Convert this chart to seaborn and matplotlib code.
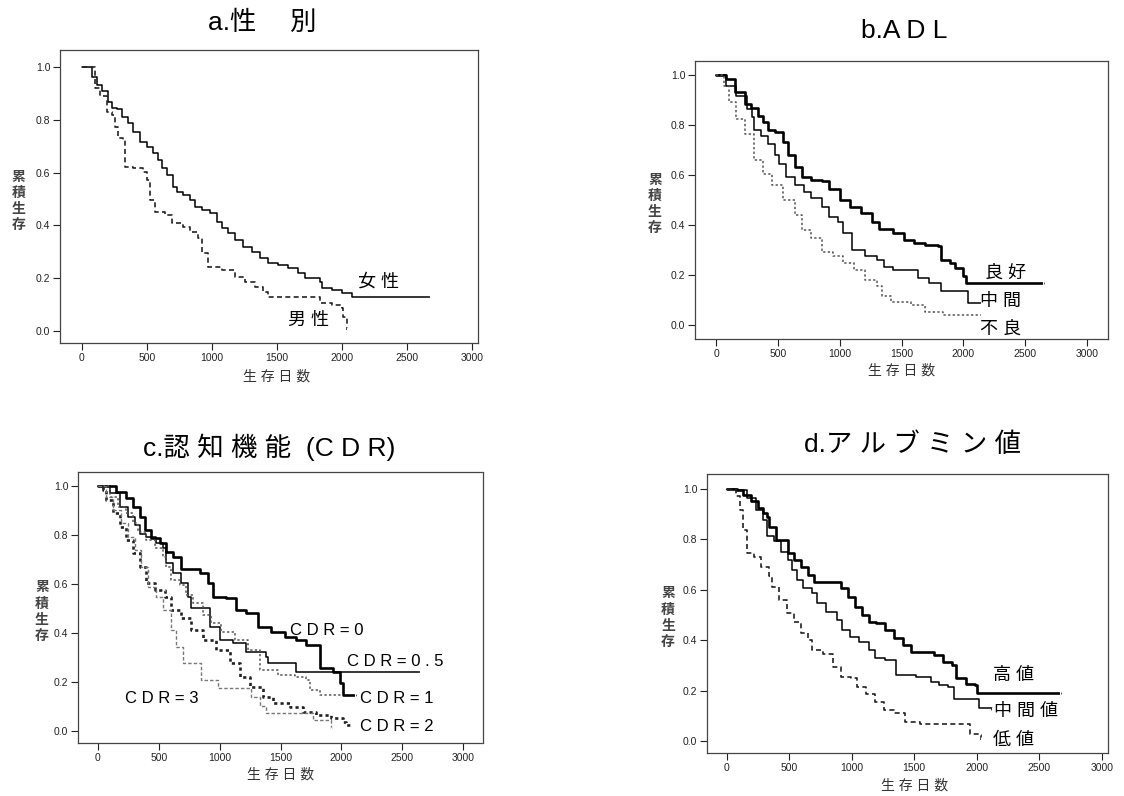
import numpy as np
import pandas as pd
import matplotlib
matplotlib.use("Agg")
import matplotlib.pyplot as plt
import seaborn as sns

# ---------------------------------------------------------------
# data (time in days, cumulative survival)
# ---------------------------------------------------------------
# a. sex
a_female_t = [0, 74, 113, 151, 203, 228, 267, 305, 356, 395, 446, 497, 549, 587, 613, 651,
              703, 728, 779, 831, 869, 920, 985, 1036, 1074, 1125, 1177, 1241, 1305, 1369,
              1433, 1510, 1587, 1664, 1715, 1831, 1844, 1921, 1997, 2074, 2679]
a_female_s = [1.0, 0.963, 0.932, 0.907, 0.869, 0.843, 0.84, 0.812, 0.787, 0.755, 0.717,
              0.698, 0.673, 0.648, 0.617, 0.592, 0.547, 0.528, 0.515, 0.497, 0.471, 0.459,
              0.446, 0.414, 0.389, 0.37, 0.345, 0.32, 0.301, 0.276, 0.257, 0.25, 0.238,
              0.219, 0.2, 0.187, 0.162, 0.156, 0.143, 0.128, 0.128]
a_male_t = [0, 100, 138, 190, 228, 254, 279, 318, 331, 395, 472, 497, 523, 562, 638, 690,
            779, 831, 895, 921, 972, 1074, 1177, 1254, 1331, 1395, 1433, 1831, 1921, 1997,
            2010, 2036]
a_male_s = [1.0, 0.92, 0.888, 0.83, 0.818, 0.774, 0.73, 0.723, 0.622, 0.616, 0.603, 0.572,
            0.496, 0.452, 0.439, 0.408, 0.395, 0.376, 0.351, 0.294, 0.243, 0.231, 0.206,
            0.187, 0.168, 0.149, 0.128, 0.105, 0.098, 0.086, 0.054, 0.004]

# b. ADL
b_good_t = [0, 78, 150, 236, 280, 337, 380, 424, 481, 539, 582, 640, 697, 769, 856, 913,
            1000, 1086, 1173, 1259, 1317, 1432, 1519, 1605, 1692, 1793, 1822, 1893, 1936,
            1994, 2023, 2643]
b_good_s = [1.0, 0.984, 0.931, 0.885, 0.869, 0.838, 0.812, 0.781, 0.772, 0.732, 0.679, 0.633,
            0.593, 0.58, 0.577, 0.546, 0.5, 0.473, 0.447, 0.414, 0.383, 0.37, 0.341, 0.33,
            0.321, 0.317, 0.261, 0.248, 0.228, 0.195, 0.168, 0.168]
b_mid_t = [0, 78, 164, 251, 294, 308, 366, 424, 481, 510, 568, 640, 712, 769, 856, 913, 986,
           1029, 1101, 1202, 1303, 1360, 1432, 1634, 1720, 1822, 2038, 2139]
b_mid_s = [1.0, 0.958, 0.918, 0.865, 0.832, 0.779, 0.755, 0.725, 0.679, 0.646, 0.593, 0.56,
           0.533, 0.507, 0.473, 0.434, 0.414, 0.367, 0.301, 0.277, 0.261, 0.232, 0.221, 0.188,
           0.168, 0.135, 0.089, 0.089]
b_poor_t = [0, 63, 107, 164, 236, 308, 380, 452, 539, 640, 697, 769, 856, 942, 1029, 1115,
            1202, 1303, 1346, 1418, 1576, 1692, 1836, 2139]
b_poor_s = [1.0, 0.958, 0.891, 0.825, 0.765, 0.659, 0.606, 0.56, 0.5, 0.44, 0.381, 0.347,
            0.294, 0.275, 0.248, 0.221, 0.182, 0.158, 0.115, 0.092, 0.082, 0.052, 0.04, 0.04]

# c. CDR
c_cdr0_t = [0, 151, 233, 288, 342, 384, 438, 507, 562, 616, 685, 836, 904, 945, 1055, 1137,
            1219, 1315, 1425, 1534, 1630, 1713, 1822, 1932, 1987, 2014, 2110]
c_cdr0_s = [1.0, 0.977, 0.95, 0.916, 0.875, 0.82, 0.786, 0.769, 0.732, 0.712, 0.66, 0.644,
            0.603, 0.548, 0.541, 0.494, 0.48, 0.426, 0.405, 0.385, 0.371, 0.351, 0.256, 0.242,
            0.195, 0.147, 0.147]
c_cdr05_t = [0, 96, 178, 247, 301, 342, 397, 479, 534, 562, 616, 685, 740, 767, 918, 1000,
             1110, 1219, 1384, 1397, 1630, 2644]
c_cdr05_s = [1.0, 0.97, 0.916, 0.875, 0.841, 0.804, 0.79, 0.766, 0.746, 0.684, 0.646, 0.603,
             0.548, 0.501, 0.426, 0.371, 0.358, 0.324, 0.303, 0.276, 0.242, 0.242]
c_cdr1_t = [0, 96, 164, 233, 288, 329, 397, 466, 534, 562, 603, 671, 726, 781, 863, 932,
            1014, 1123, 1233, 1329, 1480, 1617, 1713, 1740, 1822, 2000]
c_cdr1_s = [1.0, 0.956, 0.916, 0.888, 0.848, 0.814, 0.78, 0.746, 0.712, 0.671, 0.616, 0.596,
            0.555, 0.521, 0.473, 0.439, 0.405, 0.371, 0.33, 0.249, 0.229, 0.222, 0.208, 0.167,
            0.147, 0.147]
c_cdr2_t = [0, 41, 68, 123, 178, 233, 288, 342, 397, 466, 548, 603, 685, 767, 863, 973, 1082,
            1164, 1247, 1356, 1438, 1576, 1685, 1795, 1918, 2014, 2041, 2096]
c_cdr2_s = [1.0, 0.984, 0.943, 0.888, 0.834, 0.78, 0.725, 0.671, 0.603, 0.576, 0.548, 0.494,
            0.46, 0.412, 0.371, 0.33, 0.276, 0.222, 0.181, 0.14, 0.113, 0.099, 0.079, 0.065,
            0.052, 0.038, 0.024, 0.024]
c_cdr3_t = [0, 68, 123, 192, 247, 301, 356, 411, 479, 534, 603, 644, 699, 849, 986, 1260,
            1330, 1384, 1767, 1918]
c_cdr3_s = [1.0, 0.956, 0.902, 0.848, 0.793, 0.739, 0.671, 0.589, 0.548, 0.494, 0.412, 0.344,
            0.276, 0.208, 0.174, 0.14, 0.10, 0.072, 0.045, 0.004]

# d. albumin
d_high_t = [0, 78, 135, 193, 250, 293, 322, 336, 394, 494, 537, 595, 652, 695, 911, 968, 1026,
            1083, 1141, 1198, 1270, 1342, 1414, 1471, 1658, 1730, 1802, 1831, 1917, 1989,
            2003, 2664]
d_high_s = [1.0, 0.997, 0.977, 0.951, 0.924, 0.905, 0.891, 0.851, 0.798, 0.745, 0.719, 0.692,
            0.659, 0.633, 0.606, 0.573, 0.533, 0.5, 0.473, 0.467, 0.44, 0.407, 0.381, 0.354,
            0.341, 0.314, 0.301, 0.248, 0.228, 0.221, 0.191, 0.191]
d_mid_t = [0, 92, 164, 236, 293, 322, 379, 437, 494, 523, 566, 609, 681, 724, 796, 882, 925,
           983, 1055, 1141, 1184, 1270, 1356, 1515, 1630, 1701, 1773, 1816, 2018, 2118]
d_mid_s = [1.0, 0.997, 0.964, 0.918, 0.878, 0.812, 0.792, 0.752, 0.719, 0.679, 0.639, 0.606,
           0.586, 0.546, 0.513, 0.48, 0.44, 0.414, 0.394, 0.361, 0.328, 0.321, 0.261, 0.255,
           0.235, 0.221, 0.215, 0.168, 0.129, 0.122]
d_low_t = [0, 78, 106, 135, 164, 221, 279, 336, 365, 422, 480, 537, 595, 652, 681, 767, 854,
           911, 997, 1040, 1112, 1184, 1256, 1342, 1428, 1543, 1917, 1946, 2018, 2032]
d_low_s = [1.0, 0.971, 0.918, 0.838, 0.745, 0.732, 0.692, 0.653, 0.613, 0.56, 0.507, 0.473,
           0.427, 0.401, 0.361, 0.347, 0.294, 0.255, 0.248, 0.215, 0.188, 0.155, 0.122, 0.109,
           0.076, 0.069, 0.066, 0.029, 0.023, 0.003]

titles = ["a.性　 別", "b.A D L", "c.認 知 機 能  (C D R)", "d.ア ル ブ ミ ン 値"]
x_ticks = [0, 500, 1000, 1500, 2000, 2500, 3000]
y_ticks = [0.0, 0.2, 0.4, 0.6, 0.8, 1.0]

# ---------------------------------------------------------------
sns.set_style("white")
plt.rcParams["font.family"] = ["Liberation Sans", "Noto Sans CJK JP", "DejaVu Sans"]

W, H = 1124, 796
fig = plt.figure(figsize=(W / 100, H / 100), dpi=100)


def px_rect(l, t, r, b):
    return [l / W, (H - b) / H, (r - l) / W, (b - t) / H]


# style per curve: (colour, linewidth, dash)
SOLID_THICK = ("black", 1.9, "-")
SOLID = ("black", 1.1, "-")
DASHED = ("#222222", 1.2, (0, (3, 2)))
DOTTED = ("#555555", 1.1, (0, (1.5, 1.5)))
DOTTED_THICK = ("#222222", 1.9, (0, (1.2, 1.2)))
GREY_DASH = ("#777777", 1.0, (0, (2.5, 1.5)))

panels = [
    dict(rect=px_rect(60, 50, 478, 343), xlim=(-169, 3046), ylim=(-0.045, 1.064),
         title_xy=(262, 23),
         series=[(a_female_t, a_female_s, SOLID), (a_male_t, a_male_s, DASHED)],
         labels=[("女 性", 2282, 0.187), ("男 性", 1744, 0.042)],
         ylab_x=-0.10),
    dict(rect=px_rect(695, 61, 1108, 339), xlim=(-170, 3170), ylim=(-0.056, 1.056),
         title_xy=(904, 31),
         series=[(b_good_t, b_good_s, SOLID_THICK), (b_mid_t, b_mid_s, SOLID),
                 (b_poor_t, b_poor_s, DOTTED)],
         labels=[("良 好", 2340, 0.208), ("中 間", 2300, 0.095), ("不 良", 2300, -0.015)],
         ylab_x=-0.097),
    dict(rect=px_rect(78, 472, 483, 743), xlim=(-164, 3164), ylim=(-0.049, 1.057),
         title_xy=(269, 447),
         series=[(c_cdr0_t, c_cdr0_s, SOLID_THICK), (c_cdr05_t, c_cdr05_s, SOLID),
                 (c_cdr1_t, c_cdr1_s, DOTTED), (c_cdr2_t, c_cdr2_s, DOTTED_THICK),
                 (c_cdr3_t, c_cdr3_s, GREY_DASH)],
         labels=[("C D R = 0", 1877, 0.412), ("C D R = 0 . 5", 2439, 0.283),
                 ("C D R = 1", 2458, 0.133), ("C D R = 2", 2458, 0.018),
                 ("C D R = 3", 526, 0.133)],
         ylab_x=-0.089),
    dict(rect=px_rect(707, 474, 1108, 753), xlim=(-156, 3048), ylim=(-0.048, 1.06),
         title_xy=(913, 445),
         series=[(d_high_t, d_high_s, SOLID_THICK), (d_mid_t, d_mid_s, SOLID),
                 (d_low_t, d_low_s, DASHED)],
         labels=[("高 値", 2296, 0.261), ("中 間 値", 2391, 0.115), ("低 値", 2296, 0.003)],
         ylab_x=-0.097),
]

for p, title in zip(panels, titles):
    ax = fig.add_axes(p["rect"])
    for t, s, (col, lw, ls) in p["series"]:
        sns.lineplot(x=t, y=s, ax=ax, drawstyle="steps-post", estimator=None,
                     errorbar=None, color=col, linewidth=lw, linestyle=ls,
                     marker="|", markersize=4, markevery=[len(t) - 1],
                     markeredgewidth=0.8, legend=False)
    for txt, x, y in p["labels"]:
        fs = 12 if txt.startswith("C") else 13
        ax.text(x, y, txt, ha="center", va="center", fontsize=fs, color="black")

    ax.set_xlim(*p["xlim"])
    ax.set_ylim(*p["ylim"])
    ax.set_xticks(x_ticks)
    ax.set_yticks(y_ticks)
    ax.set_yticklabels([f"{v:.1f}" for v in y_ticks])
    ax.tick_params(axis="both", which="major", direction="out", length=5, width=0.8,
                   colors="#222222", labelsize=7.5, pad=2, left=True, bottom=True)
    for sp in ax.spines.values():
        sp.set_visible(True)
        sp.set_linestyle((0, (1, 1)))
        sp.set_linewidth(0.9)
        sp.set_color("#444444")

    ax.set_xlabel("生 存 日 数", fontsize=10, color="#333333")
    xl = p["xlim"]
    ax.xaxis.set_label_coords((1500 - xl[0]) / (xl[1] - xl[0]), -0.09)
    ax.set_ylabel("")
    ax.text(p["ylab_x"], 0.485, "累\n積\n生\n存", transform=ax.transAxes, ha="center",
            va="center", fontsize=10, linespacing=1.2, color="#444444",
            fontweight="bold")

    tx, ty = p["title_xy"]
    fig.text(tx / W, 1 - ty / H, title, ha="center", va="center", fontsize=19,
             color="black")

fig.savefig("out.png", dpi=100, facecolor="white")
